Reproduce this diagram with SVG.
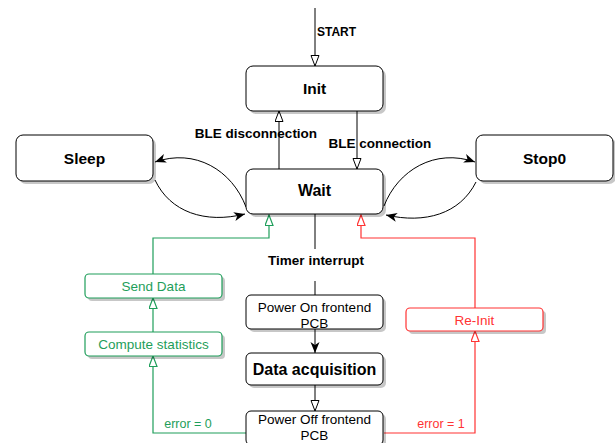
<svg xmlns="http://www.w3.org/2000/svg" width="615" height="443" viewBox="0 0 615 443">
<style>
text{font-family:"Liberation Sans",Arial,sans-serif;}
.box{fill:#fff;stroke:#000;stroke-width:1;}
.sh{fill:#000;opacity:0.22;}
.gbox{fill:#fff;stroke:#1E9E5A;stroke-width:1.2;}
.rbox{fill:#fff;stroke:#FF3333;stroke-width:1.2;}
.t{font-size:15.5px;font-weight:bold;text-anchor:middle;fill:#000;}
.n{font-size:13.5px;text-anchor:middle;fill:#000;}
.lb{font-size:13.5px;font-weight:bold;fill:#000;}
.g{fill:#1E9E5A;}
.r{fill:#FF3333;}
.e{fill:none;stroke:#000;stroke-width:1;}
.ge{fill:none;stroke:#1E9E5A;stroke-width:1.2;}
.re{fill:none;stroke:#FF3333;stroke-width:1.2;}
</style>
<defs>
<marker id="ob" markerUnits="userSpaceOnUse" markerWidth="12" markerHeight="10" refX="11" refY="4.5" orient="auto"><path d="M0.5,0.5 L11,4.5 L0.5,8.5 Z" fill="#fff" stroke="#000" stroke-width="1"/></marker>
<marker id="og" markerUnits="userSpaceOnUse" markerWidth="12" markerHeight="10" refX="11" refY="4.5" orient="auto"><path d="M0.5,0.5 L11,4.5 L0.5,8.5 Z" fill="#fff" stroke="#1E9E5A" stroke-width="1.2"/></marker>
<marker id="or" markerUnits="userSpaceOnUse" markerWidth="12" markerHeight="10" refX="11" refY="4.5" orient="auto"><path d="M0.5,0.5 L11,4.5 L0.5,8.5 Z" fill="#fff" stroke="#FF3333" stroke-width="1.2"/></marker>
<marker id="cb" markerUnits="userSpaceOnUse" markerWidth="12" markerHeight="10" refX="11" refY="4.5" orient="auto"><path d="M0,0 L11,4.5 L0,9 L3,4.5 Z" fill="#000"/></marker>
</defs>

<g id="connectors">
  <path class="e" d="M315,8 V66" marker-end="url(#ob)"/>
  <text class="lb" x="317" y="36" style="font-size:12px">START</text>
  <path class="e" d="M279,169 V111" marker-end="url(#ob)"/>
  <path class="e" d="M357,111 V169" marker-end="url(#ob)"/>
  <text class="lb" x="256" y="138" text-anchor="middle">BLE disconnection</text>
  <text class="lb" x="380" y="148" text-anchor="middle">BLE connection</text>
  <path class="e" d="M246,207 C232,170 195,148 155,162" marker-end="url(#cb)"/>
  <path class="e" d="M155,180 C170,212 205,224 245,214" marker-end="url(#cb)"/>
  <path class="e" d="M384,206 C398,170 435,148 475,162" marker-end="url(#cb)"/>
  <path class="e" d="M476,182 C460,214 425,224 386,215" marker-end="url(#cb)"/>
  <path class="e" d="M315,214 V249 M315,281 V295"/>
  <text class="lb" x="316" y="265" text-anchor="middle">Timer interrupt</text>
  <path class="e" d="M315,329 V353" marker-end="url(#cb)"/>
  <path class="e" d="M315,385 V411" marker-end="url(#ob)"/>
  <path class="ge" d="M246,433 H153 V356" marker-end="url(#og)"/>
  <text class="g" x="188" y="428" style="font-size:12.5px" text-anchor="middle">error = 0</text>
  <path class="ge" d="M153,332 V298" marker-end="url(#og)"/>
  <path class="ge" d="M153,274 V238 H269 V215" marker-end="url(#og)"/>
  <path class="re" d="M384,433 H475 V331" marker-end="url(#or)"/>
  <text class="r" x="441" y="428" style="font-size:12.5px" text-anchor="middle">error = 1</text>
  <path class="re" d="M475,308 V238 H361 V215" marker-end="url(#or)"/>
</g>

<g id="init">
  <rect class="sh" x="249" y="69" width="137" height="45" rx="7"/>
  <rect class="box" x="246" y="66" width="137" height="45" rx="7"/>
  <text class="t" x="314.5" y="93.5">Init</text>
</g>
<g id="wait">
  <rect class="sh" x="249" y="172" width="137" height="45" rx="7"/>
  <rect class="box" x="246" y="169" width="137" height="45" rx="7"/>
  <text class="t" x="314.5" y="196" style="font-size:16px">Wait</text>
</g>
<g id="sleep">
  <rect class="sh" x="19" y="138" width="137" height="46" rx="7"/>
  <rect class="box" x="16" y="135" width="137" height="46" rx="7"/>
  <text class="t" x="84.5" y="163.5">Sleep</text>
</g>
<g id="stop0">
  <rect class="sh" x="479" y="138" width="137" height="46" rx="7"/>
  <rect class="box" x="476" y="135" width="137" height="46" rx="7"/>
  <text class="t" x="544.5" y="163.5">Stop0</text>
</g>
<g id="power-on">
  <rect class="sh" x="249" y="298" width="137" height="34" rx="5"/>
  <rect class="box" x="246" y="295" width="137" height="34" rx="5"/>
  <text class="n" x="314.5" y="312">Power On frontend</text>
  <text class="n" x="314.5" y="328">PCB</text>
</g>
<g id="data-acquisition">
  <rect class="sh" x="249" y="356" width="137" height="32" rx="5"/>
  <rect class="box" x="246" y="353" width="137" height="32" rx="5"/>
  <text class="t" x="314.5" y="375" style="font-size:16px">Data acquisition</text>
</g>
<g id="power-off">
  <rect class="sh" x="249" y="414" width="137" height="34" rx="5"/>
  <rect class="box" x="246" y="411" width="137" height="34" rx="5"/>
  <text class="n" x="314.5" y="423.5">Power Off frontend</text>
  <text class="n" x="314.5" y="439.5">PCB</text>
</g>
<g id="send-data">
  <rect class="sh" x="88" y="277" width="137" height="24" rx="4"/>
  <rect class="gbox" x="85" y="274" width="137" height="24" rx="4"/>
  <text class="n g" x="153.5" y="290.5">Send Data</text>
</g>
<g id="compute-statistics">
  <rect class="sh" x="88" y="335" width="137" height="24" rx="4"/>
  <rect class="gbox" x="85" y="332" width="137" height="24" rx="4"/>
  <text class="n g" x="153.5" y="348.5">Compute statistics</text>
</g>
<g id="re-init">
  <rect class="sh" x="409" y="311" width="137" height="23" rx="4"/>
  <rect class="rbox" x="406" y="308" width="137" height="23" rx="4"/>
  <text class="n r" x="474.5" y="324.5">Re-Init</text>
</g>
</svg>
